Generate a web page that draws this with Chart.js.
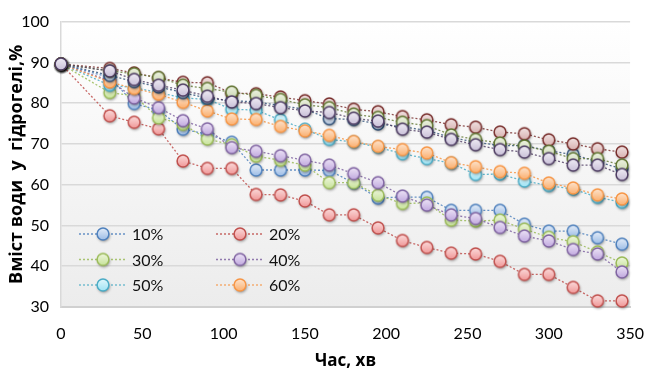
<!DOCTYPE html>
<html>
<head>
<meta charset="utf-8">
<script src="https://cdn.jsdelivr.net/npm/chart.js@4.4.1/dist/chart.umd.min.js"></script>
<style>
  html, body { margin: 0; padding: 0; background: #ffffff; }
  #wrap { width: 661px; height: 374px; }
</style>
</head>
<body>
<div id="wrap"><canvas id="c" width="661" height="374"></canvas></div>
<script>
// Time points, minutes
const minutes = [0, 30, 45, 60, 75, 90, 105, 120, 135, 150, 165, 180, 195, 210, 225, 240, 255, 270, 285, 300, 315, 330, 345];

// Series names
const seriesNames = ['10%', '20%', '30%', '40%', '50%', '60%', '70%', '80%', '90%', '100%'];

// Water content in hydrogel, %
const water10  = [89.6, 86.3, 79.9, 78.3, 73.6, 72.4, 70.4, 63.6, 63.6, 63.6, 63.5, 60.4, 56.7, 57.0, 56.9, 53.7, 53.7, 53.7, 50.3, 48.6, 48.6, 47.0, 45.4];
const water20  = [89.6, 76.9, 75.3, 73.7, 65.8, 64.0, 64.0, 57.6, 57.5, 56.0, 52.6, 52.6, 49.4, 46.3, 44.6, 43.2, 43.0, 41.2, 38.0, 38.0, 34.8, 31.5, 31.5];
const water30  = [89.6, 82.6, 81.8, 76.4, 74.8, 71.2, 69.8, 67.0, 66.0, 64.8, 60.5, 60.5, 57.4, 55.4, 55.5, 51.3, 51.1, 51.3, 49.1, 47.1, 46.0, 43.5, 40.8];
const water40  = [89.6, 85.5, 81.3, 78.9, 75.7, 73.7, 69.1, 68.2, 67.1, 66.0, 64.8, 62.7, 60.5, 57.2, 55.0, 52.6, 51.7, 49.5, 47.4, 46.2, 44.1, 43.0, 38.6];
const water50  = [89.6, 84.4, 83.8, 82.6, 81.3, 80.9, 78.5, 78.3, 75.9, 73.6, 71.1, 70.5, 69.2, 67.6, 66.4, 65.3, 62.5, 62.6, 60.9, 59.8, 58.9, 56.9, 55.7];
const water60  = [89.6, 85.2, 83.6, 82.2, 80.2, 78.1, 76.1, 76.0, 74.3, 73.2, 72.1, 70.6, 69.4, 68.6, 67.8, 65.4, 64.4, 63.2, 62.8, 60.4, 59.2, 57.5, 56.5];
const water70  = [89.6, 86.8, 85.3, 84.0, 82.6, 81.2, 80.6, 80.3, 79.4, 78.5, 76.2, 76.0, 74.9, 74.2, 73.3, 71.6, 70.4, 69.6, 69.6, 68.3, 67.4, 65.6, 63.9];
const water80  = [89.6, 88.5, 87.4, 86.2, 85.1, 85.0, 82.5, 82.3, 81.5, 80.6, 79.8, 78.5, 77.9, 76.7, 75.9, 74.7, 74.1, 72.9, 72.5, 71.0, 70.0, 68.8, 68.0];
const water90  = [89.6, 87.9, 87.2, 86.3, 84.4, 83.6, 82.7, 81.9, 80.9, 79.6, 78.9, 77.3, 76.5, 75.3, 74.5, 72.2, 71.1, 70.2, 69.5, 68.2, 66.4, 66.4, 64.8];
const water100 = [89.6, 87.9, 85.8, 84.4, 83.2, 81.7, 80.3, 79.9, 78.9, 78.1, 77.7, 76.3, 75.6, 73.6, 72.9, 71.1, 69.8, 68.6, 68.0, 66.4, 64.8, 64.8, 62.5];

const seriesValues = [water10, water20, water30, water40, water50, water60, water70, water80, water90, water100];

// Axis ticks
const xTicks = [0, 50, 100, 150, 200, 250, 300, 350];
const yTicks = [30, 40, 50, 60, 70, 80, 90, 100];

// Marker palette: border, light fill, deeper fill, line colour
const palette = [
  { border: '#4f81bd', hi: '#e3ecf8', lo: '#9dbde6', line: 'rgba(79,129,189,0.85)' },
  { border: '#c0504d', hi: '#fbdada', lo: '#f09898', line: 'rgba(192,80,77,0.85)' },
  { border: '#9bbb59', hi: '#eef6dc', lo: '#c7e39a', line: 'rgba(155,187,89,0.85)' },
  { border: '#8064a2', hi: '#ece3f6', lo: '#c1a9df', line: 'rgba(128,100,162,0.85)' },
  { border: '#4bacc6', hi: '#e0f7fc', lo: '#9fe3f4', line: 'rgba(75,172,198,0.85)' },
  { border: '#f79646', hi: '#fde3cc', lo: '#fbb070', line: 'rgba(247,150,70,0.85)' },
  { border: '#2c4d75', hi: '#e6ecf4', lo: '#b7c7dc', line: 'rgba(44,77,117,0.8)' },
  { border: '#772c2a', hi: '#f1e2e2', lo: '#d8b2b1', line: 'rgba(119,44,42,0.8)' },
  { border: '#5f7530', hi: '#edf2e1', lo: '#cbd8b2', line: 'rgba(95,117,48,0.8)' },
  { border: '#4d3b62', hi: '#efebf4', lo: '#c9c0d8', line: 'rgba(77,59,98,0.8)' }
];

// Round marker with soft gradient and a small drop shadow
function makeMarker(p) {
  const size = 24, c = size / 2, r = 5.9;
  const cv = document.createElement('canvas');
  cv.width = size; cv.height = size;
  const g = cv.getContext('2d');
  g.save();
  g.shadowColor = 'rgba(0,0,0,0.45)';
  g.shadowBlur = 3;
  g.shadowOffsetX = 0.8;
  g.shadowOffsetY = 1.6;
  const grad = g.createLinearGradient(0, c - r, 0, c + r);
  grad.addColorStop(0, p.hi);
  grad.addColorStop(1, p.lo);
  g.beginPath();
  g.arc(c, c, r, 0, Math.PI * 2);
  g.fillStyle = grad;
  g.fill();
  g.restore();
  g.beginPath();
  g.arc(c, c, r, 0, Math.PI * 2);
  g.lineWidth = 1.5;
  g.strokeStyle = p.border;
  g.stroke();
  return cv;
}

const markers = palette.map(makeMarker);

const datasets = seriesNames.map((name, i) => ({
  label: name,
  data: minutes.map((m, k) => ({ x: m, y: seriesValues[i][k] })),
  borderColor: palette[i].line,
  borderWidth: 1.3,
  borderDash: [2, 2],
  pointStyle: markers[i],
  pointRadius: 6,
  pointHoverRadius: 6,
  showLine: true,
  tension: 0,
  clip: false,
  order: seriesNames.length - i
}));

// Plot background: soft vertical gradient
const plotBackground = {
  id: 'plotBackground',
  beforeDraw(chart) {
    const { ctx, chartArea: a } = chart;
    const grad = ctx.createLinearGradient(0, a.top, 0, a.bottom);
    grad.addColorStop(0, '#ffffff');
    grad.addColorStop(1, '#ececec');
    ctx.save();
    ctx.fillStyle = grad;
    ctx.fillRect(a.left, a.top, a.right - a.left, a.bottom - a.top);
    ctx.restore();
  }
};

// Two-column legend for the first six series, placed inside the plot
const insideLegend = {
  id: 'insideLegend',
  afterDatasetsDraw(chart) {
    const ctx = chart.ctx;
    const rows = [234, 259.5, 285];
    const cols = [79, 216];
    ctx.save();
    ctx.font = '16px Lato, "Open Sans", sans-serif';
    ctx.textBaseline = 'middle';
    ctx.fillStyle = '#111111';
    for (let i = 0; i < 6; i++) {
      const x0 = cols[i % 2], y = rows[Math.floor(i / 2)];
      ctx.beginPath();
      ctx.setLineDash([2, 2]);
      ctx.lineWidth = 1.3;
      ctx.strokeStyle = palette[i].line;
      ctx.moveTo(x0, y);
      ctx.lineTo(x0 + 48, y);
      ctx.stroke();
      ctx.setLineDash([]);
      const m = markers[i];
      ctx.drawImage(m, x0 + 24 - m.width / 2, y - m.height / 2);
      ctx.fillText(chart.data.datasets[i].label, x0 + 53, y + 1);
    }
    ctx.restore();
  }
};

new Chart(document.getElementById('c'), {
  type: 'scatter',
  data: { datasets },
  options: {
    responsive: false,
    animation: false,
    devicePixelRatio: 1,
    events: [],
    layout: { padding: { top: 13, right: 16, bottom: 0, left: 0 } },
    plugins: {
      legend: { display: false },
      tooltip: { enabled: false }
    },
    scales: {
      x: {
        type: 'linear',
        min: xTicks[0],
        max: xTicks[xTicks.length - 1],
        afterFit(s) { s.height = 67; },
        afterBuildTicks(s) { s.ticks = xTicks.map(v => ({ value: v })); },
        grid: { display: false, drawTicks: false },
        border: { display: true, color: '#d0d0d0', width: 2 },
        ticks: {
          padding: 17,
          color: '#000000',
          font: { family: 'Lato, "Open Sans", sans-serif', size: 16 }
        },
        title: {
          display: true,
          text: 'Час, хв',
          color: '#000000',
          padding: { top: 0, bottom: 3 },
          font: { family: '"Open Sans", "Noto Sans", sans-serif', size: 17, weight: 'bold' }
        }
      },
      y: {
        type: 'linear',
        min: yTicks[0],
        max: yTicks[yTicks.length - 1],
        afterFit(s) { s.width = 61; },
        afterBuildTicks(s) { s.ticks = yTicks.map(v => ({ value: v })); },
        grid: { color: '#d9d9d9', lineWidth: 1.5, drawTicks: false },
        border: { display: true, color: '#d9d9d9', width: 1.5 },
        ticks: {
          padding: 12,
          color: '#000000',
          font: { family: 'Lato, "Open Sans", sans-serif', size: 16 }
        },
        title: {
          display: true,
          text: 'Вміст води  у  гідрогелі,%',
          color: '#000000',
          padding: { top: 6, bottom: 0 },
          font: { family: '"Open Sans", "Noto Sans", sans-serif', size: 18, weight: 'bold' }
        }
      }
    }
  },
  plugins: [plotBackground, insideLegend]
});
</script>
</body>
</html>
